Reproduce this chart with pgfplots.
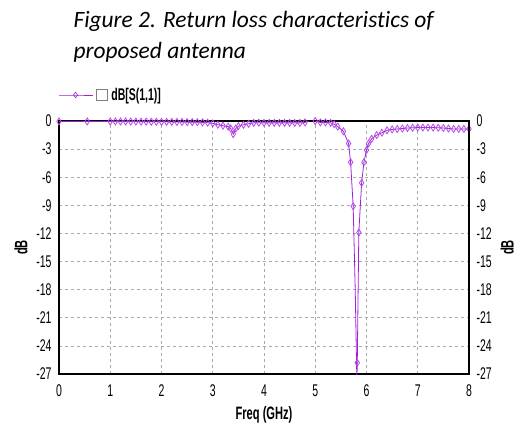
\documentclass[border=0pt]{standalone}
\usepackage{pgfplots}
\pgfplotsset{compat=1.18}
\usepackage{pgfplotstable}
\usepackage{fontspec}
\setmainfont[Ligatures=CommonOff]{Carlito}
\newfontfamily\narrowfont[FakeStretch=0.62]{Liberation Sans}
\definecolor{sparam}{RGB}{160,30,220}
\definecolor{gridc}{RGB}{170,170,170}

\pgfplotstableread{
x y
0 -0.05
0.55 -0.05
1.0 -0.05
1.1 -0.05
1.2 -0.05
1.3 -0.05
1.4 -0.06
1.5 -0.06
1.6 -0.07
1.7 -0.07
1.8 -0.08
1.9 -0.08
2.0 -0.09
2.1 -0.09
2.2 -0.1
2.3 -0.1
2.4 -0.1
2.5 -0.12
2.6 -0.12
2.7 -0.13
2.8 -0.15
2.9 -0.18
3.0 -0.25
3.1 -0.4
3.2 -0.5
3.3 -0.6
3.35 -0.8
3.4 -1.4
3.45 -0.8
3.5 -0.55
3.6 -0.4
3.7 -0.3
3.8 -0.2
3.9 -0.18
4.0 -0.2
4.1 -0.2
4.2 -0.2
4.3 -0.2
4.4 -0.2
4.5 -0.2
4.6 -0.2
4.7 -0.2
4.8 -0.15
4.9 0.05
5.0 0.0
5.1 -0.15
5.2 -0.15
5.3 -0.2
5.37 -0.35
5.44 -0.6
5.55 -1.1
5.65 -2.4
5.69 -4.4
5.74 -9.1
5.78 -18
5.812 -27.8
5.82 -25.8
5.85 -11.9
5.905 -6.6
5.95 -4.4
6.0 -3.1
6.04 -2.4
6.1 -1.9
6.2 -1.5
6.3 -1.25
6.4 -1.0
6.5 -0.9
6.6 -0.85
6.7 -0.8
6.8 -0.75
6.9 -0.72
7.0 -0.7
7.1 -0.7
7.2 -0.7
7.3 -0.7
7.4 -0.72
7.5 -0.75
7.6 -0.8
7.7 -0.85
7.8 -0.85
7.9 -0.85
8.0 -0.85
}\sdata

\begin{document}
\begin{tikzpicture}
\pgfplotsset{
  common/.style={
    at={(0,0)}, anchor=south west,
    scale only axis, width=410bp, height=253bp,
    xmin=0, xmax=8, ymin=-27, ymax=0,
    xtick={0,1,...,8}, ytick={-27,-24,...,0},
    tick style={draw=none},
    /pgf/number format/assume math mode=true,
    ticklabel style={font=\narrowfont\fontsize{17}{17}\selectfont},
    label style={font=\narrowfont\bfseries\fontsize{18}{18}\selectfont},
  }
}
\begin{axis}[common,
  grid=major,
  major grid style={gridc, dash pattern=on 3bp off 3bp, line width=0.7pt},
  axis line style={black, line width=1.3pt},
  xticklabel style={yshift=-7bp},
  yticklabel style={xshift=-4bp},
  xlabel={Freq (GHz)}, xlabel style={yshift=-3bp},
  ylabel={dB}, ylabel style={yshift=2bp},
  legend style={at={(rel axis cs:-0.0025,1.1028)}, anchor=west, draw=none, fill=none,
    inner sep=0pt, nodes={inner sep=0pt, font=\narrowfont\bfseries\fontsize{17}{17}\selectfont}},
  legend image code/.code={\draw[#1, mark repeat=2, mark phase=2] plot coordinates {(0bp,0bp) (17bp,0bp) (34bp,0bp)};},
]
\addlegendimage{sparam, line width=0.8pt, mark=diamond, mark size=2.8pt, mark options={solid, fill=white, line width=0.6pt}}
\addlegendentry{\,{\setlength\fboxsep{0pt}\setlength\fboxrule{0.8pt}\color{gray}\fbox{\rule{0pt}{11bp}\hspace{10bp}}}\hspace{4bp}dB[S(1,1)]}
\addplot[sparam, line width=0.8pt, no markers, forget plot] table[x=x,y=y] {\sdata};
\addplot[only marks, mark=diamond, mark size=3.5pt, mark options={draw=sparam!80, fill=none, line width=0.8pt, xscale=0.85},
  skip coords between index={54}{56}, forget plot] table[x=x,y=y] {\sdata};
\end{axis}
\begin{axis}[common,
  axis x line=none, axis y line*=right,
  axis line style={black, line width=1.3pt},
  yticklabel pos=right,
  yticklabel style={xshift=4bp},
  ylabel={dB}, ylabel style={yshift=-2bp},
  xticklabels={},
]
\end{axis}
\node[anchor=base west, font=\fontsize{23.5}{29}\selectfont\itshape] at (11bp,346bp) {Figure 2. Return loss characteristics of};
\node[anchor=base west, font=\fontsize{23.5}{29}\selectfont\itshape] at (11bp,315bp) {proposed antenna};
\pgfresetboundingbox
\path (-59bp,-52bp) rectangle (462bp,374bp);
\end{tikzpicture}
\end{document}
